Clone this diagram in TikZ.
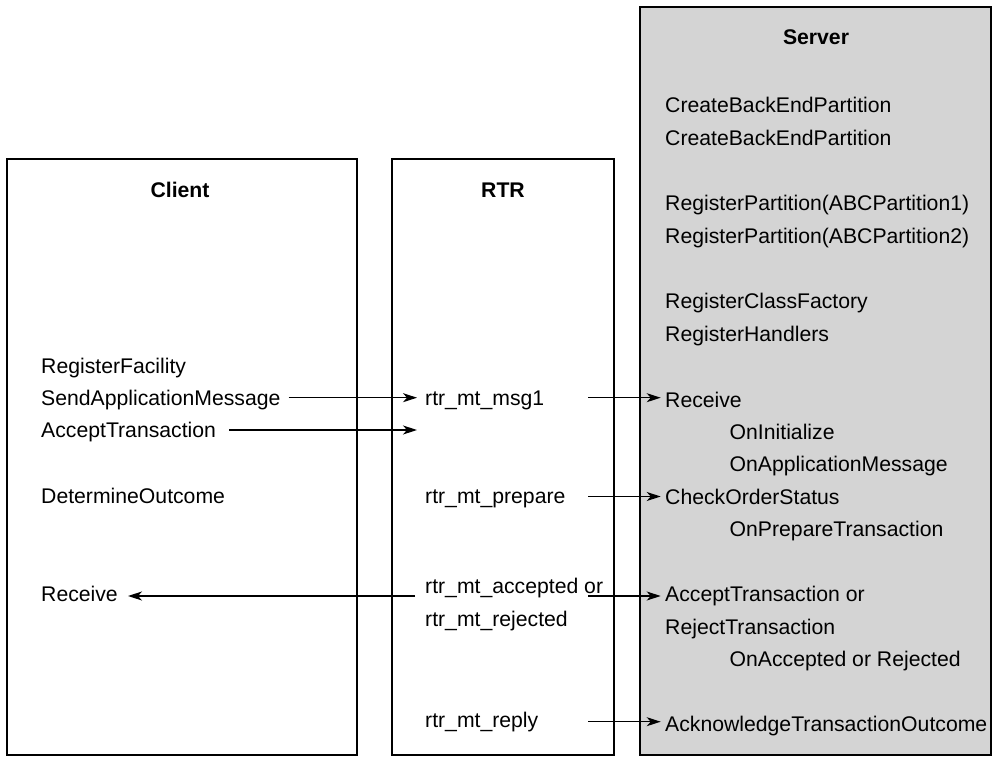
\documentclass[tikz,border=0pt]{standalone}
\usepackage{fontspec}
\setmainfont{Liberation Sans}
\usetikzlibrary{arrows.meta}
\definecolor{srvgray}{RGB}{212,212,212}
\begin{document}
\begin{tikzpicture}[x=1pt,y=-1pt,
  box/.style={draw=black,line width=2.4pt},
  txt/.style={anchor=base west,inner sep=0pt,text height=15.3pt,text depth=0pt,font=\fontsize{21.2pt}{26pt}\selectfont},
  hdr/.style={anchor=base,inner sep=0pt,font=\fontsize{21.2pt}{26pt}\selectfont\bfseries},
  arr/.style={line width=1.3pt,-{Stealth[length=14pt,width=9pt,inset=4pt]}}]
\useasboundingbox (0,0) rectangle (994,757);
% boxes
\draw[box] (7,159) rectangle (357,755);
\draw[box] (392,159) rectangle (614,755);
\draw[box,fill=srvgray] (640,7) rectangle (991,755);
% headers
\node[hdr] (hclient) at (180,197) {Client};
\node[hdr] (hrtr) at (503,197) {RTR};
\node[hdr] (hserver) at (816,45) {Server};
% client texts
\node[txt] (regfac) at (41,373) {RegisterFacility};
\node[txt] (sendapp) at (41,405) {SendApplicationMessage};
\node[txt] (accepttx) at (41,437.5) {AcceptTransaction};
\node[txt] (determ) at (41,503) {DetermineOutcome};
\node[txt] (creceive) at (41,601) {Receive};
% RTR texts
\node[txt] (msg1) at (425,405) {rtr\_mt\_msg1};
\node[txt] (prep) at (425,503) {rtr\_mt\_prepare};
\node[txt] (rtracc) at (425,593.5) {rtr\_mt\_accepted or};
\node[txt] (rtrrej) at (425,626) {rtr\_mt\_rejected};
\node[txt] (reply) at (425,727) {rtr\_mt\_reply};
% server texts
\node[txt] (s1) at (665,113) {CreateBackEndPartition};
\node[txt] (s2) at (665,145.6) {CreateBackEndPartition};
\node[txt] (s3) at (665,210.8) {RegisterPartition(ABCPartition1)};
\node[txt] (s4) at (665,243.4) {RegisterPartition(ABCPartition2)};
\node[txt] (s5) at (665,308.6) {RegisterClassFactory};
\node[txt] (s6) at (665,341.2) {RegisterHandlers};
\node[txt] (sreceive) at (665,407) {Receive};
\node[txt] (sinit) at (729.5,439.3) {OnInitialize};
\node[txt] (sappmsg) at (729.5,471.7) {OnApplicationMessage};
\node[txt] (scheck) at (665,504) {CheckOrderStatus};
\node[txt] (sprep) at (729.5,536.7) {OnPrepareTransaction};
\node[txt] (saccept) at (665,601.7) {AcceptTransaction or};
\node[txt] (sreject) at (665,634.2) {RejectTransaction};
\node[txt] (sonacc) at (729.5,666.8) {OnAccepted or Rejected};
\node[txt] (sack) at (665,731.8) {AcknowledgeTransactionOutcome};
% arrow rows
\coordinate (ya) at (0,397.7);
\coordinate (yb) at (0,430);
\coordinate (yc) at (0,496.5);
\coordinate (yd) at (0,596);
\coordinate (ye) at (0,721.7);
\coordinate (rout) at (588,0);
% arrows
\draw[arr,shorten <=8pt,shorten >=8pt] (sendapp.east |- ya) -- (msg1.west |- ya);
\draw[arr,shorten <=13pt,shorten >=8pt] (accepttx.east |- yb) -- (msg1.west |- yb);
\draw[arr,shorten >=4.3pt] (rout |- ya) -- (sreceive.west |- ya);
\draw[arr,shorten >=4.3pt] (rout |- yc) -- (scheck.west |- yc);
\draw[arr,shorten >=4.3pt] (rout |- yd) -- (saccept.west |- yd);
\draw[arr,shorten >=4.3pt] (rout |- ye) -- (sack.west |- ye);
\draw[arr,shorten <=10pt,shorten >=10pt] (rtracc.west |- yd) -- (creceive.east |- yd);
\end{tikzpicture}
\end{document}
